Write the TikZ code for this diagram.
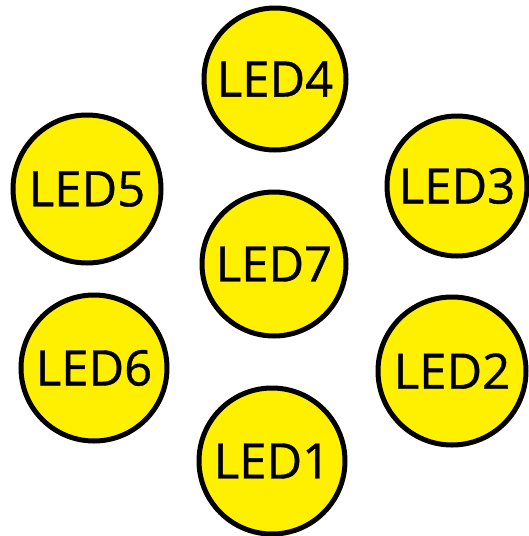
\documentclass[tikz,border=0pt]{standalone}
\usepackage{fontspec}
\setmainfont{Open Sans}
\newfontfamily\ledfont[FakeBold=0.8]{Open Sans}
\definecolor{ledyellow}{RGB}{255,240,0}
\begin{document}
\begin{tikzpicture}[x=1pt,y=-1pt,
  led/.style={circle,draw=black,line width=5pt,fill=ledyellow,inner sep=0pt,
    font=\ledfont\fontsize{49}{49}\selectfont}]
\useasboundingbox (0,0) rectangle (529,536);
\node[led,minimum size=142pt] (led4) at (275,79) {LED4};
\node[led,minimum size=148pt] (led5) at (87,189) {LED5};
\node[led,minimum size=140pt] (led3) at (457,186) {LED3};
\node[led,minimum size=144pt] (led7) at (274,264) {LED7};
\node[led,minimum size=146pt] (led6) at (94,368) {LED6};
\node[led,minimum size=148pt] (led2) at (452,371) {LED2};
\node[led,minimum size=146pt] (led1) at (272,461) {LED1};
\end{tikzpicture}
\end{document}
